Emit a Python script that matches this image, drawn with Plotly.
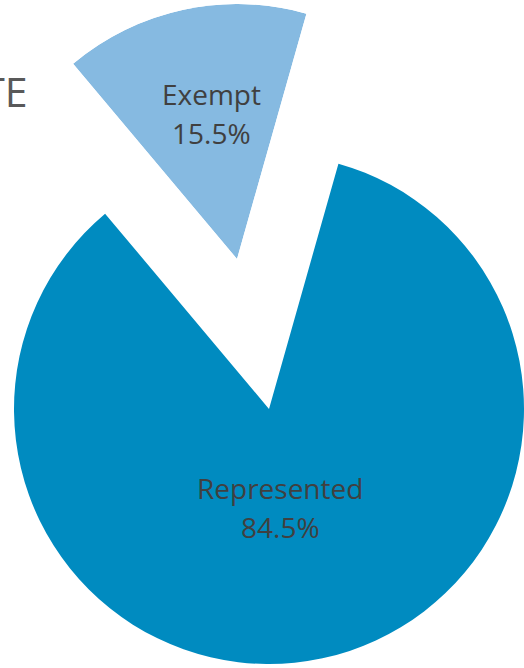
import math
import plotly.graph_objects as go

# ---- data -------------------------------------------------------------
categories = ["Exempt", "Represented"]
shares = [15.5, 84.5]                      # percent of FTE
slice_colors = ["#86BAE1", "#008BC0"]
title_text = "FTE"

# ---- layout constants (pixels) ---------------------------------------
W, H = 524, 668
R = 255                     # pie radius
CX, CY = 269, 409           # centre of the main pie
EX, EY = 237, 259           # apex of the detached Exempt wedge
START = -40                 # first slice starts 40 deg left of 12 o'clock
TEXT_COLOR = "#404040"
FONT = "Open Sans"
LABEL_SIZE = 28
LINE_GAP = 39
LABEL_POS = {"Exempt": (211.5, 113.5), "Represented": (280, 507.5)}


def px_to_paper(x, y):
    return x / W, 1 - y / H


total = sum(shares)
spans = [s / total * 360 for s in shares]

fig = go.Figure()

# Main pie: the Exempt slice is left empty here and drawn detached below.
fig.add_trace(go.Pie(
    labels=categories,
    values=shares,
    sort=False,
    direction="clockwise",
    rotation=START,
    marker=dict(colors=["rgba(0,0,0,0)", slice_colors[1]], line=dict(width=0)),
    textinfo="none",
    hoverinfo="label+percent",
    showlegend=False,
    domain=dict(
        x=[max(0, (CX - R) / W), min(1, (CX + R) / W)],
        y=[max(0, 1 - (CY + R) / H), min(1, 1 - (CY - R) / H)],
    ),
))

# Detached Exempt wedge: a single polar bar in a polar sector sized to the wedge.
theta_mid = START + spans[0] / 2
sec_a = 90 - (START + spans[0])     # sector bounds in math angles (ccw from east)
sec_b = 90 - START

pts = [(0.0, 0.0)]
for a in (sec_a, sec_b):
    pts.append((math.cos(math.radians(a)), math.sin(math.radians(a))))
for a in (0, 90, 180, 270, 360):
    if sec_a <= a <= sec_b:
        pts.append((math.cos(math.radians(a)), math.sin(math.radians(a))))
xs = [p[0] for p in pts]
ys = [p[1] for p in pts]
left, right = EX + R * min(xs), EX + R * max(xs)
top, bottom = EY - R * max(ys), EY - R * min(ys)

fig.add_trace(go.Barpolar(
    r=[1],
    theta=[theta_mid],
    width=[spans[0]],
    marker=dict(color=slice_colors[0], line=dict(width=0)),
    name=categories[0],
    hovertext=[f"{categories[0]}: {shares[0]:.1f}%"],
    hoverinfo="text",
    showlegend=False,
    subplot="polar",
))

fig.update_layout(
    polar=dict(
        domain=dict(x=[left / W, right / W], y=[1 - bottom / H, 1 - top / H]),
        sector=[sec_a, sec_b],
        bgcolor="rgba(0,0,0,0)",
        radialaxis=dict(range=[0, 1], visible=False, showgrid=False, showline=False,
                        showticklabels=False, ticks=""),
        angularaxis=dict(direction="clockwise", rotation=90, visible=False,
                         showgrid=False, showline=False, showticklabels=False, ticks=""),
    ),
)

# Slice labels: category name over its share.
annotations = []
for name, val in zip(categories, shares):
    lx, ly = LABEL_POS[name]
    for txt, dy in ((name, -LINE_GAP / 2), (f"{val:.1f}%", LINE_GAP / 2)):
        px, py = px_to_paper(lx, ly + dy)
        annotations.append(dict(
            x=px, y=py, xref="paper", yref="paper",
            text=txt, showarrow=False, xanchor="center", yanchor="middle",
            font=dict(family=FONT, size=LABEL_SIZE, color=TEXT_COLOR),
        ))

# Chart title (runs off the left edge)
tx, ty = px_to_paper(30, 91.5)
annotations.append(dict(
    x=tx, y=ty, xref="paper", yref="paper", text=title_text, showarrow=False,
    xanchor="right", yanchor="middle",
    font=dict(family=FONT, size=41, color="#595959"),
))

fig.update_layout(
    width=W, height=H,
    margin=dict(l=0, r=0, t=0, b=0),
    paper_bgcolor="white",
    plot_bgcolor="white",
    showlegend=False,
    annotations=annotations,
)

fig.write_html("out.html")
